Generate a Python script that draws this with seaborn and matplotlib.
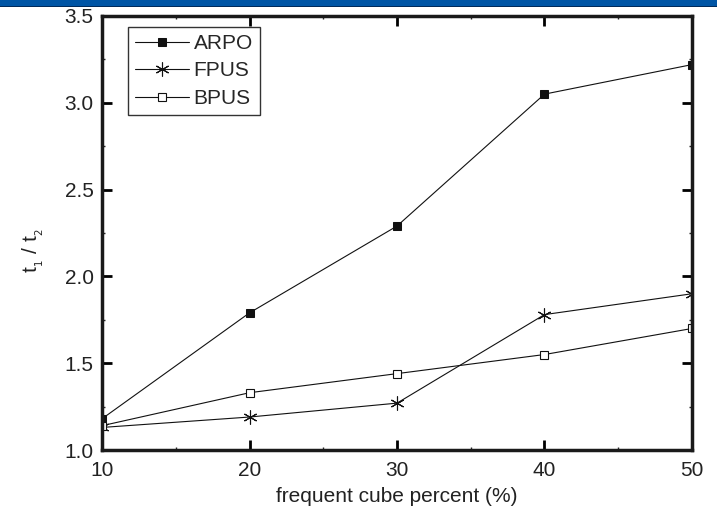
import matplotlib.pyplot as plt
import matplotlib.patches as mpatches
from matplotlib.ticker import MultipleLocator
import pandas as pd
import seaborn as sns

# Data
percent = [10, 20, 30, 40, 50]
arpo = [1.18, 1.79, 2.29, 3.05, 3.22]
fpus = [1.13, 1.19, 1.27, 1.78, 1.90]
bpus = [1.14, 1.33, 1.44, 1.55, 1.70]

sns.set_style("ticks")
plt.rcParams['font.family'] = ['Liberation Sans', 'DejaVu Sans']

fig = plt.figure(figsize=(7.17, 5.28), dpi=100)
ax = fig.add_axes([0.1423, 0.1477, 0.8228, 0.822])

# Blue header strip
fig.patches.append(mpatches.Rectangle((0, 0.988), 1, 0.012, transform=fig.transFigure,
                                      facecolor="#0055a5", edgecolor="none", zorder=5))
fig.patches.append(mpatches.Rectangle((0, 0.986), 1, 0.003, transform=fig.transFigure,
                                      facecolor="#002a5a", edgecolor="none", zorder=5))

series = [
    ("ARPO", arpo, dict(marker="s", markersize=6, markerfacecolor="#111111", markeredgecolor="#111111")),
    ("FPUS", fpus, dict(marker=(6, 2, 0), markersize=10, markeredgewidth=0.8, markeredgecolor="#111111")),
    ("BPUS", bpus, dict(marker="s", markersize=6, markerfacecolor="white", markeredgecolor="#111111", markeredgewidth=0.8)),
]
for name, vals, style in series:
    df = pd.DataFrame({"percent": percent, "ratio": vals})
    sns.lineplot(data=df, x="percent", y="ratio", ax=ax, color="#111111", linewidth=0.8,
                 label=name, **style)

ax.set_xlim(10, 50)
ax.set_ylim(1.0, 3.5)
ax.xaxis.set_major_locator(MultipleLocator(10))
ax.xaxis.set_minor_locator(MultipleLocator(5))
ax.yaxis.set_major_locator(MultipleLocator(0.5))
ax.yaxis.set_minor_locator(MultipleLocator(0.25))
ax.tick_params(which="major", direction="in", length=7, width=2, top=True, right=True,
               labelsize=15, colors="black", labelcolor="#222222")
ax.tick_params(axis="x", which="major", pad=8)
ax.tick_params(axis="y", which="major", pad=6)
ax.tick_params(which="minor", direction="in", length=2, width=1, top=True, right=True)

for sp in ax.spines.values():
    sp.set_linewidth(2.5)
    sp.set_color("#1a1a1a")

ax.set_xlabel("frequent cube percent (%)", fontsize=15, labelpad=5, color="#222222")
ax.set_ylabel(r"t$_{_1}$ / t$_{_2}$", fontsize=15, color="#222222")
ax.yaxis.set_label_coords(-0.095, 0.46)

leg = ax.legend(loc="upper left", bbox_to_anchor=(0.044, 0.975), fontsize=15, frameon=True,
                fancybox=False, edgecolor="black", handlelength=2.6, handletextpad=0.2,
                borderpad=0.35, labelspacing=0.4, borderaxespad=0)
leg.get_frame().set_linewidth(1.0)

fig.savefig("out.png", dpi=100)
